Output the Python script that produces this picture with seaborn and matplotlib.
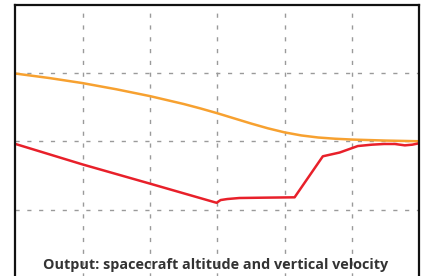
import matplotlib
matplotlib.use("Agg")
import matplotlib.pyplot as plt
import seaborn as sns
import pandas as pd
import numpy as np

# altitude (orange) and vertical velocity (red)
alt_t = [0, 0.5, 1, 1.5, 2, 2.5, 2.75, 3, 3.25, 3.5, 3.75, 4, 4.25, 4.5, 4.75, 5, 5.5, 6]
alt_v = [0.99, 0.925, 0.85, 0.76, 0.66, 0.545, 0.48, 0.41, 0.335, 0.26, 0.19, 0.13, 0.085,
         0.055, 0.037, 0.025, 0.01, 0.0]

vel_t = [0, 1, 2, 2.99, 3.05, 3.15, 3.33, 3.7, 4.15, 4.57, 4.82, 5.09, 5.3, 5.48, 5.64, 5.79, 5.9, 6]
vel_v = [-0.04, -0.34, -0.62, -0.90, -0.86, -0.845, -0.83, -0.825, -0.82, -0.22, -0.165, -0.07,
         -0.05, -0.04, -0.04, -0.06, -0.05, -0.03]

title = "Output: spacecraft altitude and vertical velocity"

df_alt = pd.DataFrame({"t": alt_t, "v": alt_v})
df_vel = pd.DataFrame({"t": vel_t, "v": vel_v})

sns.set_style("white")
plt.rcParams['font.family'] = ['Open Sans', 'DejaVu Sans']

fig = plt.figure(figsize=(4.21, 2.76), dpi=100)
W, H = 421, 276
ax = fig.add_axes([15.5 / W, (H - 278) / H, (419 - 15.5) / W, (278 - 4.5) / H])

sns.lineplot(data=df_alt, x="t", y="v", color="#f7a130", lw=1.8, ax=ax)
sns.lineplot(data=df_vel, x="t", y="v", color="#e8202a", lw=1.8, ax=ax)

ax.set_xlim(0, 6)
ax.set_ylim(-2, 2)
ax.set_xticks(range(1, 6))
ax.set_yticks([-1, 0, 1])
ax.grid(True, color="#9a9a9a", linestyle=(0, (3, 5.5)), linewidth=1.0)
ax.tick_params(length=0, labelbottom=False, labelleft=False)
ax.set_xlabel("")
ax.set_ylabel("")
for s in ax.spines.values():
    s.set_color("#111111")
    s.set_linewidth(1.6)

fig.text(216 / W, 1 - 265 / H, title, ha="center", va="center",
         fontsize=10.4, fontweight="bold", color="#333333")

fig.savefig("out.png", dpi=100)
